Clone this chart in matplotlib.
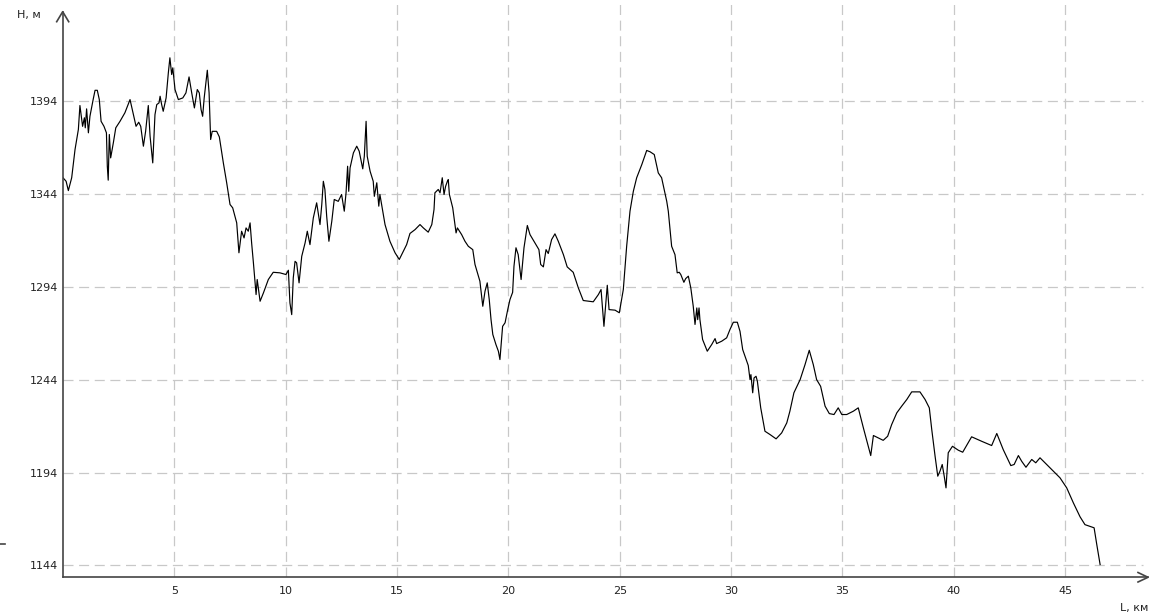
import matplotlib
matplotlib.use("Agg")
import matplotlib.pyplot as plt
from matplotlib.lines import Line2D

# profile: distance along route (km) and height (m)
dist_km = [
    0.00, 0.14, 0.24, 0.39, 0.54, 0.69, 0.76, 0.88, 0.96, 1.00,
    1.06, 1.14, 1.21, 1.36, 1.44, 1.54, 1.63, 1.71, 1.84, 1.95,
    1.99, 2.03, 2.08, 2.14, 2.26, 2.37, 2.56, 2.78, 3.01, 3.16,
    3.28, 3.40, 3.49, 3.61, 3.71, 3.83, 3.91, 4.03, 4.13, 4.21,
    4.31, 4.36, 4.43, 4.50, 4.63, 4.73, 4.80, 4.88, 4.93, 5.03,
    5.18, 5.38, 5.52, 5.66, 5.78, 5.90, 6.03, 6.12, 6.20, 6.27,
    6.34, 6.48, 6.56, 6.63, 6.70, 6.90, 7.02, 7.20, 7.35, 7.50,
    7.62, 7.80, 7.90, 8.02, 8.13, 8.22, 8.32, 8.40, 8.47, 8.55,
    8.67, 8.72, 8.85, 9.00, 9.22, 9.44, 9.74, 10.01, 10.12, 10.19,
    10.27, 10.34, 10.42, 10.49, 10.60, 10.72, 10.87, 10.97, 11.09, 11.24,
    11.39, 11.54, 11.62, 11.69, 11.76, 11.84, 11.94, 12.07, 12.18, 12.36,
    12.51, 12.63, 12.71, 12.78, 12.83, 12.89, 13.04, 13.19, 13.30, 13.46,
    13.53, 13.61, 13.66, 13.79, 13.93, 13.98, 14.09, 14.18, 14.23, 14.46,
    14.68, 14.91, 15.10, 15.28, 15.43, 15.58, 15.81, 16.03, 16.18, 16.40,
    16.56, 16.66, 16.70, 16.85, 16.93, 17.03, 17.11, 17.18, 17.26, 17.30,
    17.35, 17.50, 17.65, 17.71, 17.90, 18.05, 18.20, 18.40, 18.50, 18.72,
    18.85, 18.95, 19.05, 19.14, 19.22, 19.30, 19.44, 19.55, 19.62, 19.74,
    19.85, 19.97, 20.07, 20.19, 20.25, 20.34, 20.44, 20.57, 20.70, 20.85,
    20.97, 21.19, 21.37, 21.45, 21.57, 21.69, 21.79, 21.94, 22.09, 22.24,
    22.47, 22.64, 22.91, 23.14, 23.36, 23.81, 24.04, 24.16, 24.29, 24.44,
    24.52, 24.79, 24.98, 25.16, 25.31, 25.46, 25.61, 25.76, 25.99, 26.21,
    26.36, 26.55, 26.73, 26.88, 27.11, 27.18, 27.33, 27.48, 27.58, 27.67,
    27.74, 27.88, 27.96, 28.08, 28.19, 28.30, 28.38, 28.46, 28.50, 28.56,
    28.60, 28.72, 28.93, 29.13, 29.28, 29.35, 29.58, 29.80, 29.95, 30.10,
    30.28, 30.40, 30.52, 30.77, 30.85, 30.89, 30.97, 31.03, 31.12, 31.18,
    31.33, 31.52, 31.75, 32.02, 32.27, 32.50, 32.64, 32.82, 33.10, 33.32,
    33.51, 33.69, 33.84, 34.02, 34.22, 34.41, 34.62, 34.81, 34.97, 35.19,
    35.49, 35.71, 35.94, 36.12, 36.27, 36.39, 36.61, 36.83, 37.03, 37.21,
    37.44, 37.66, 37.89, 38.11, 38.48, 38.71, 38.90, 39.01, 39.16, 39.28,
    39.38, 39.48, 39.57, 39.65, 39.75, 39.94, 40.20, 40.40, 40.80, 41.25,
    41.70, 41.93, 42.22, 42.56, 42.71, 42.90, 43.05, 43.24, 43.50, 43.68,
    43.87, 44.17, 44.54, 44.77, 45.07, 45.37, 45.67, 45.89, 46.30, 46.42,
    46.57,
]
height_m = [
    1352.8, 1350.9, 1345.9, 1352.8, 1368.0, 1378.8, 1391.7, 1380.5, 1385.1, 1379.7,
    1389.9, 1377.0, 1385.9, 1395.3, 1399.9, 1399.9, 1394.9, 1383.2, 1380.5, 1377.0,
    1359.0, 1351.5, 1376.1, 1363.5, 1371.6, 1379.7, 1383.2, 1387.8, 1394.9, 1386.8,
    1380.5, 1382.7, 1380.5, 1369.8, 1377.8, 1391.7, 1375.2, 1360.8, 1386.8, 1392.2,
    1393.1, 1396.7, 1392.2, 1388.6, 1395.8, 1409.3, 1417.4, 1408.4, 1412.0, 1400.3,
    1394.9, 1395.8, 1398.5, 1407.1, 1398.5, 1390.4, 1400.3, 1398.5, 1389.5, 1385.9,
    1395.8, 1410.7, 1398.5, 1373.4, 1377.8, 1377.8, 1374.8, 1360.8, 1350.1, 1338.4,
    1336.6, 1328.5, 1312.4, 1324.0, 1320.4, 1325.8, 1324.0, 1328.5, 1317.7, 1307.0,
    1289.9, 1298.0, 1286.3, 1290.8, 1298.0, 1301.9, 1301.6, 1300.7, 1303.0, 1285.4,
    1279.1, 1298.9, 1307.8, 1307.0, 1296.2, 1310.5, 1317.7, 1324.0, 1316.8, 1331.2,
    1339.3, 1327.6, 1338.4, 1350.9, 1346.5, 1332.1, 1318.6, 1329.4, 1341.1, 1340.1,
    1343.8, 1334.8, 1344.7, 1359.0, 1345.5, 1358.1, 1366.2, 1369.8, 1367.1, 1357.6,
    1364.4, 1383.2, 1364.4, 1356.3, 1350.9, 1342.8, 1350.1, 1337.5, 1343.8, 1327.6,
    1318.6, 1312.4, 1308.8, 1313.2, 1316.8, 1322.8, 1324.9, 1327.6, 1325.8, 1323.5,
    1327.6, 1335.7, 1344.7, 1346.5, 1344.7, 1352.8, 1343.8, 1348.2, 1350.9, 1351.8,
    1343.8, 1336.6, 1323.1, 1325.8, 1322.2, 1318.6, 1315.9, 1314.1, 1306.1, 1297.1,
    1283.6, 1291.7, 1296.2, 1287.2, 1276.4, 1268.4, 1263.0, 1259.4, 1254.9, 1272.8,
    1274.7, 1281.8, 1287.2, 1291.1, 1305.1, 1315.1, 1311.4, 1298.0, 1315.1, 1327.1,
    1322.2, 1317.7, 1314.1, 1306.1, 1304.8, 1314.1, 1312.0, 1319.5, 1322.6, 1318.6,
    1311.4, 1304.8, 1301.9, 1293.5, 1286.7, 1286.0, 1289.9, 1292.6, 1272.8, 1294.9,
    1281.8, 1281.5, 1280.1, 1292.6, 1315.9, 1334.8, 1345.5, 1352.8, 1359.9, 1367.5,
    1366.8, 1365.3, 1355.4, 1352.8, 1340.1, 1334.8, 1315.9, 1311.4, 1301.6, 1301.9,
    1300.7, 1296.5, 1298.5, 1299.8, 1293.5, 1283.6, 1273.8, 1282.7, 1276.4, 1282.7,
    1276.4, 1265.7, 1259.4, 1263.0, 1266.2, 1263.5, 1264.8, 1266.6, 1271.1, 1275.0,
    1275.0, 1270.1, 1260.3, 1251.7, 1244.1, 1246.8, 1237.0, 1245.0, 1245.9, 1243.2,
    1228.9, 1216.3, 1214.5, 1212.2, 1215.4, 1220.8, 1227.1, 1237.0, 1244.1, 1252.2,
    1259.9, 1252.2, 1244.1, 1240.5, 1229.8, 1225.8, 1225.3, 1228.9, 1225.3, 1225.3,
    1227.1, 1228.9, 1218.1, 1210.0, 1203.2, 1214.0, 1212.7, 1211.4, 1213.6, 1219.9,
    1226.2, 1229.8, 1233.4, 1237.5, 1237.5, 1233.4, 1228.9, 1217.2, 1202.8, 1192.1,
    1194.8, 1198.4, 1192.1, 1185.8, 1204.7, 1208.2, 1206.1, 1205.0, 1213.3, 1210.9,
    1208.6, 1215.1, 1206.4, 1197.8, 1198.4, 1203.2, 1200.1, 1196.9, 1201.1, 1199.3,
    1202.0, 1198.4, 1193.9, 1191.2, 1185.8, 1177.7, 1170.2, 1166.0, 1164.3, 1155.3,
    1144.5,
]

x_ticks = [5, 10, 15, 20, 25, 30, 35, 40, 45]
y_ticks = [1144, 1194, 1244, 1294, 1344, 1394]

W, H = 1169, 616
fig = plt.figure(figsize=(W / 100, H / 100), dpi=100)


def fpx(x, y):
    # pixel position -> figure fraction
    return x / W, 1 - y / H


# axes area: left edge at x=63px, bottom at y=577px, up to the top of the figure
ax = fig.add_axes([63 / W, (H - 577.3) / H, (1148 - 63) / W, 577.3 / H])
x_max = (1148 - 63) / 22.27
y_min = 1144 - (577.3 - 565.5) / 1.857
y_max = y_min + 577.3 / 1.857
ax.set_xlim(0, x_max)
ax.set_ylim(y_min, y_max)

for s in ax.spines.values():
    s.set_visible(False)

grid_kw = dict(color="#c8c8c8", linewidth=0.9, dashes=(8, 4.5))
for xv in x_ticks:
    ax.axvline(xv, **grid_kw)
for yv in y_ticks:
    ax.plot([0, (1143 - 63) / 22.27], [yv, yv], **grid_kw)

ax.plot(dist_km, height_m, color="black", linewidth=0.85)

ax.set_xticks(x_ticks)
ax.set_yticks(y_ticks)
ax.tick_params(length=0, labelsize=8, labelcolor="#222222")
ax.tick_params(axis="y", pad=3.5)
ax.tick_params(axis="x", pad=6)

# axis lines with open arrow heads
axis_c = "#444444"
lines = [
    [(63, 577.3), (63, 11.7)],
    [(56.7, 21.7), (62.7, 11.7), (68.7, 21.7)],
    [(63, 577.3), (1148, 577.3)],
    [(1138, 572.5), (1148, 577.3), (1138, 582)],
    [(0, 544), (5, 544)],
]
for pts in lines:
    xs, ys = zip(*[fpx(px, py) for px, py in pts])
    fig.add_artist(Line2D(xs, ys, color=axis_c, linewidth=1.2))

fig.text(*fpx(17, 15), "Н, м", fontsize=8, color="#222222", va="center", ha="left")
fig.text(*fpx(1120, 608), "L, км", fontsize=8, color="#222222", va="center", ha="left")

fig.savefig("out.png", dpi=100)
